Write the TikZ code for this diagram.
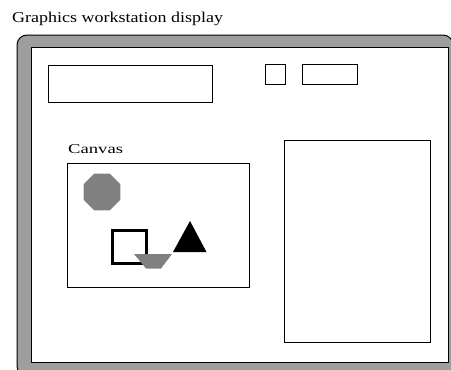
\documentclass[tikz,border=0pt]{standalone}
\usepackage{fontspec}
\setmainfont{Liberation Serif}
\usepackage{graphicx}
\usetikzlibrary{shapes.geometric}
\tikzset{
  box/.style={draw=black, line width=1.5pt},
  band/.style={fill=black!38, draw=black, line width=1pt},
  dots/.style={fill=black!50},
  label/.style={anchor=base west, inner sep=0pt, font=\fontsize{15}{15}\selectfont},
}
\begin{document}
\begin{tikzpicture}[x=1pt,y=-1pt]
\clip (0,0) rectangle (451,370);
\fill[white] (0,0) rectangle (451,370);
% title
\node[label] (title) at (12,22) {\scalebox{1.2}[1]{Graphics workstation display}};
% frame
\draw[band, rounded corners=10pt] (17,35) rectangle (453,376);
\draw[fill=white, draw=black, line width=1pt] (31,47.5) rectangle (448,362);
% top widgets
\draw[box] (48.5,65.5) rectangle (212.5,102.5);
\draw[box] (265.5,64.5) rectangle (285.5,84.5);
\draw[box] (302.5,64.5) rectangle (357.5,84.5);
% right panel
\draw[box] (284.5,140.5) rectangle (430.5,342.5);
% canvas
\node[label, font=\fontsize{13.5}{13.5}\selectfont] (canvaslabel) at (68,153) {\scalebox{1.38}[1]{Canvas}};
\draw[box] (67.5,163.5) rectangle (249.5,287.5);
% octagon
\node[regular polygon, regular polygon sides=8, minimum size=40pt, inner sep=0pt, dots] (oct) at (102,192) {};
% square
\draw[draw=black, line width=3pt] (112.5,230.5) rectangle (146.5,263.5);
% gray trapezoid
\fill[dots] (134,254) -- (172,254) -- (161,268.5) -- (146,268.5) -- cycle;
% triangle
\fill[black] (190,221) -- (206.5,252) -- (173,252) -- cycle;
\end{tikzpicture}
\end{document}
